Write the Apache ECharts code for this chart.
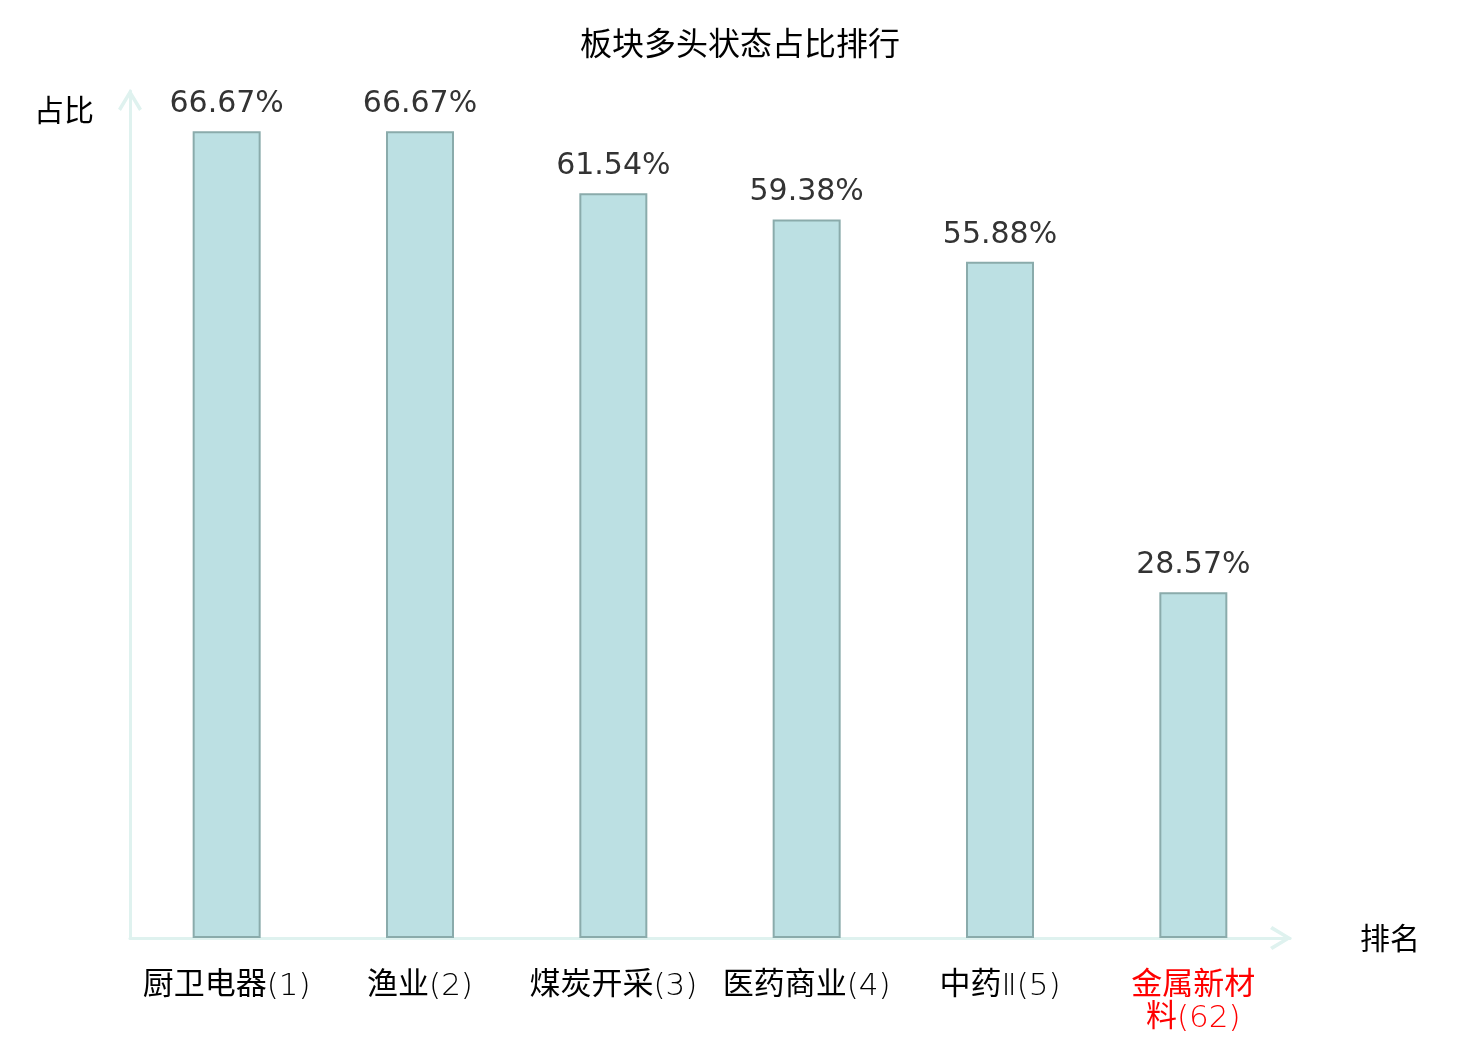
<!DOCTYPE html>
<html>
<head>
<meta charset="utf-8">
<script src="https://cdn.jsdelivr.net/npm/echarts@6/dist/echarts.min.js"></script>
<style>
  html, body { margin: 0; padding: 0; background: #fff; }
  #main { width: 1480px; height: 1040px; }
</style>
</head>
<body>
<div id="main"></div>
<script>
// 板块名称及排名
var categories = ['厨卫电器(1)', '渔业(2)', '煤炭开采(3)', '医药商业(4)', '中药Ⅱ(5)', '金属新材料(62)'];
// 多头状态占比 (%)
var ratios = [66.67, 66.67, 61.54, 59.38, 55.88, 28.57];
// 需要高亮的类别 (本板块)
var highlightName = '金属新材料(62)';

var FONT = '"DejaVu Sans", "Noto Sans CJK SC", sans-serif';
var CJK = '"Noto Sans CJK SC", sans-serif';
// 开口箭头 (朝上, 由ECharts按轴方向旋转)
var chevron = 'path://M10,0 L20,16.5 L17.6,18.4 L10,5.6 L2.4,18.4 L0,16.5 Z';

// 汉字用常规字重, 数字括号用细体
function richLabel(val) {
    var red = val === highlightName;
    var text = val.length > 8 ? val.slice(0, 4) + '\n' + val.slice(4) : val;
    return text.split('\n').map(function (line) {
        var parts = line.match(/[\u4e00-\u9fff]+|[^\u4e00-\u9fff]+/g) || [];
        return parts.map(function (s) {
            var isCjk = /[\u4e00-\u9fff]/.test(s);
            return '{' + (isCjk ? 'c' : 'l') + (red ? 'R' : '') + '|' + s + '}';
        }).join('');
    }).join('\n');
}

var labelRich = {
    c: { fontSize: 31, fontFamily: CJK, fontWeight: 'normal', color: '#000', lineHeight: 32 },
    l: { fontSize: 31, fontFamily: FONT, fontWeight: 200, color: '#000', lineHeight: 32, padding: [10, 0, 0, 0] },
    cR: { fontSize: 31, fontFamily: CJK, fontWeight: 'normal', color: '#ff0000', lineHeight: 32 },
    lR: { fontSize: 31, fontFamily: FONT, fontWeight: 200, color: '#ff0000', lineHeight: 32, padding: [10, 0, 0, 0] }
};

var myChart = echarts.init(document.getElementById('main'));

var option = {
    backgroundColor: '#fff',
    textStyle: { fontFamily: FONT },
    title: {
        text: '板块多头状态占比排行',
        left: 'center',
        top: 22,
        textStyle: { fontSize: 32, fontWeight: 'normal', color: '#000', fontFamily: CJK }
    },
    grid: { left: 130, right: 190, top: 91, bottom: 102 },
    xAxis: {
        type: 'category',
        data: categories,
        name: '排名',
        nameLocation: 'end',
        nameGap: 70,
        nameTextStyle: { fontSize: 30, color: '#000', fontFamily: CJK, padding: [17, 0, 0, 0] },
        axisLine: {
            lineStyle: { color: '#dff2ef', width: 3 },
            symbol: ['none', chevron],
            symbolSize: [24, 22],
            symbolOffset: [0, -9]
        },
        axisTick: { show: false },
        axisLabel: {
            interval: 0,
            margin: 28,
            lineHeight: 32,
            formatter: richLabel,
            rich: labelRich
        }
    },
    yAxis: {
        type: 'value',
        min: 0,
        max: 70,
        name: '占比',
        nameLocation: 'end',
        nameGap: -34,
        nameTextStyle: { fontSize: 30, color: '#000', fontFamily: CJK, align: 'right', padding: [0, 36, 0, 0] },
        axisLine: {
            show: true,
            lineStyle: { color: '#dff2ef', width: 3 },
            symbol: ['none', chevron],
            symbolSize: [24, 22],
            symbolOffset: [0, -9]
        },
        axisTick: { show: false },
        axisLabel: { show: false },
        splitLine: { show: false }
    },
    series: [{
        type: 'bar',
        data: ratios,
        barWidth: 68,
        itemStyle: { color: '#bce0e3', borderColor: '#8aabab', borderWidth: 2 },
        label: {
            show: true,
            position: 'top',
            distance: 12,
            fontSize: 30,
            color: '#333',
            formatter: function (p) { return p.value.toFixed(2) + '%'; }
        }
    }]
};

myChart.setOption(option);
</script>
</body>
</html>
